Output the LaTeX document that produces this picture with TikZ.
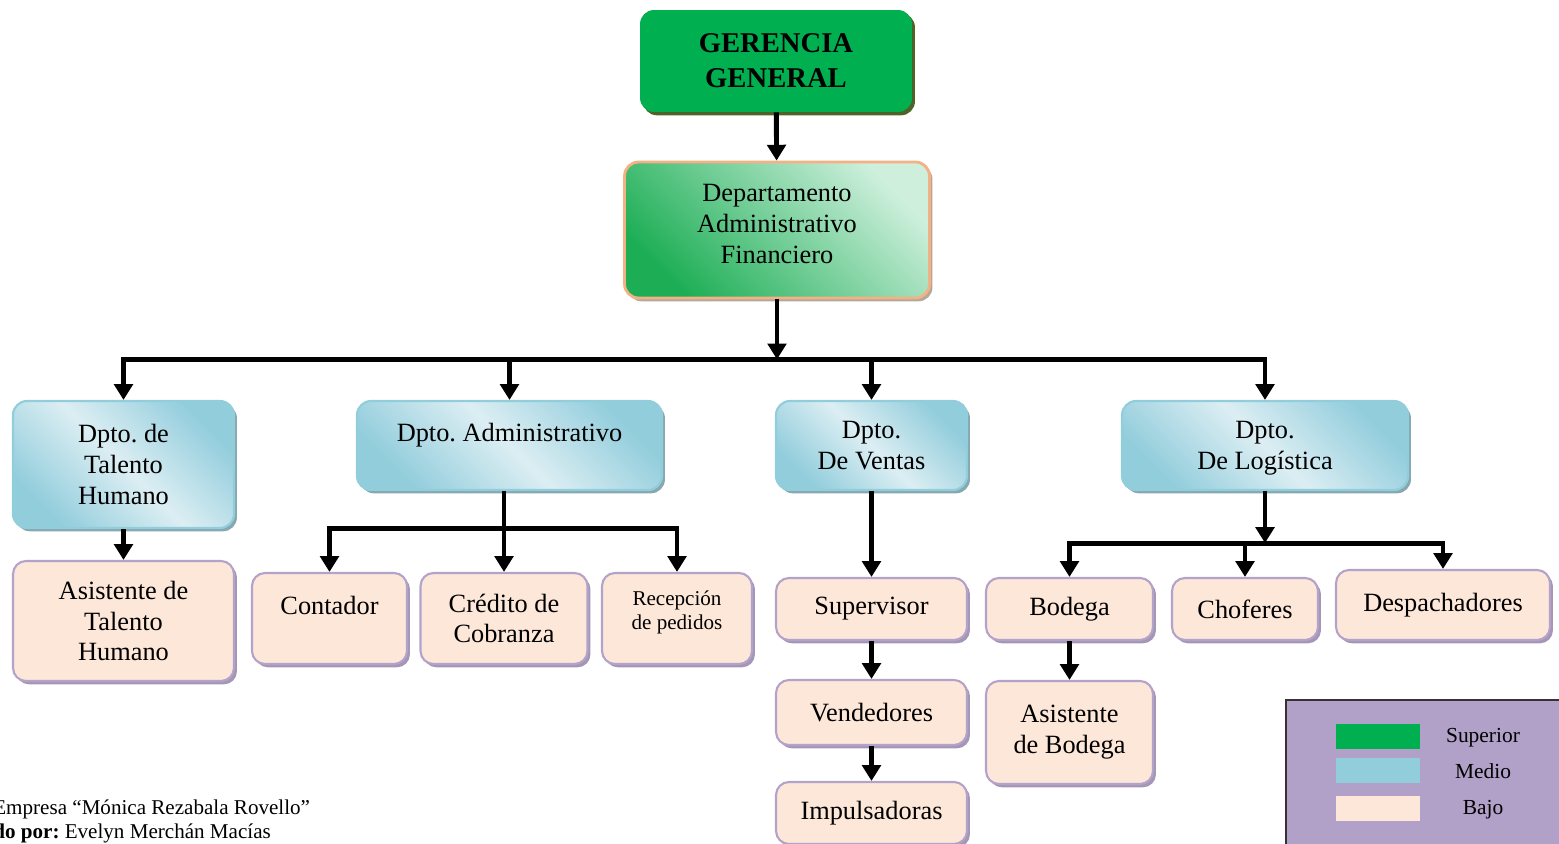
\documentclass[tikz,border=0pt]{standalone}
\usepackage{fontspec}
\setmainfont{Liberation Serif}
\usepackage{tikz}
\usetikzlibrary{calc, positioning, arrows.meta, shadows}
\frenchspacing

\definecolor{gerGreen}{HTML}{00B050}
\definecolor{gerShadow}{HTML}{4F6228}
\definecolor{dafDark}{HTML}{1DAE55}
\definecolor{dafLight}{HTML}{CDEFDC}
\definecolor{dafLine}{HTML}{F4B183}
\definecolor{dafShadow}{HTML}{B3A899}
\definecolor{midDark}{HTML}{92CDDC}
\definecolor{midLight}{HTML}{DCEEF3}
\definecolor{midShadow}{HTML}{86A8B1}
\definecolor{lowFill}{HTML}{FCE7D9}
\definecolor{lowLine}{HTML}{B3A2C9}
\definecolor{lowShadow}{HTML}{A497B5}
\definecolor{legendBg}{HTML}{B1A0C7}

\begin{document}
\begin{tikzpicture}[x=0.02cm, y=-0.02cm,
    every node/.style={font=\fontsize{15}{17.6}\selectfont, align=center, inner sep=2pt},
    topbox/.style={rounded corners=0.28cm, fill=gerGreen,
        drop shadow={shadow xshift=1.7pt, shadow yshift=-1.9pt, fill=gerShadow, opacity=1}},
    dafbox/.style={rounded corners=0.28cm, draw=dafLine, line width=1.6pt,
        bottom color=dafDark, top color=dafLight, shading angle=-45,
        drop shadow={shadow xshift=1.7pt, shadow yshift=-1.9pt, fill=dafShadow, opacity=1}},
    midbox/.style={rounded corners=0.28cm, draw=midDark, line width=1.2pt,
        top color=midDark, bottom color=midDark, middle color=midLight, shading angle=-45,
        drop shadow={shadow xshift=1.7pt, shadow yshift=-1.9pt, fill=midShadow, opacity=1}},
    lowbox/.style={rounded corners=0.26cm, draw=lowLine, line width=1.2pt, fill=lowFill,
        drop shadow={shadow xshift=1.7pt, shadow yshift=-1.9pt, fill=lowShadow, opacity=1}},
    arr/.style={line width=2.8pt, -{Triangle[width=10.5pt,length=9pt]}}
]
\useasboundingbox (0,0) rectangle (1559,844);
\clip (0,0) rectangle (1559,844);

% upper levels
\node[topbox, minimum width=5.44cm, minimum height=2.04cm,
      font=\bfseries\fontsize{16.3}{19.8}\selectfont] (ger) at (776,61) {GERENCIA\\GENERAL};
\node[dafbox, minimum width=6.1cm, minimum height=2.72cm, text depth=7pt] (daf) at (777,230)
      {Departamento\\Administrativo\\Financiero};

% departments
\node[midbox, minimum width=4.42cm, minimum height=2.54cm] (dth) at (123.5,464.5) {Dpto. de\\Talento\\Humano};
\node[midbox, minimum width=6.1cm, minimum height=1.78cm, text height=10pt, text depth=15pt] (dadm) at (509.5,445.5) {Dpto. Administrativo};
\node[midbox, minimum width=3.82cm, minimum height=1.78cm] (dven) at (871.5,445.5) {Dpto.\\De Ventas};
\node[midbox, minimum width=5.72cm, minimum height=1.78cm, text depth=0pt] (dlog) at (1265,445.5) {Dpto.\\De Logística};

% lower level
\node[lowbox, minimum width=4.42cm, minimum height=2.4cm] (ath) at (123.5,621) {Asistente de\\Talento\\Humano};
\node[lowbox, minimum width=3.1cm, minimum height=1.82cm, text height=10pt, text depth=15pt] (cont) at (329.5,618.5) {Contador};
\node[lowbox, minimum width=3.34cm, minimum height=1.82cm] (cred) at (504,618.5) {Crédito de\\Cobranza};
\node[lowbox, minimum width=3.0cm, minimum height=1.82cm, text depth=9.5pt,
      font=\fontsize{12}{14.2}\selectfont] (rec) at (677,618.5) {Recepción\\de pedidos};
\node[lowbox, minimum width=3.82cm, minimum height=1.24cm] (sup) at (871.5,609) {Supervisor};
\node[lowbox, minimum width=3.82cm, minimum height=1.3cm] (vend) at (871.5,712.5) {Vendedores};
\node[lowbox, minimum width=3.82cm, minimum height=1.24cm] (imp) at (871.5,813) {Impulsadoras};
\node[lowbox, minimum width=3.34cm, minimum height=1.24cm] (bod) at (1069.5,609) {Bodega};
\node[lowbox, minimum width=2.92cm, minimum height=1.24cm] (cho) at (1245,609) {Choferes};
\node[lowbox, minimum width=4.28cm, minimum height=1.4cm] (desp) at (1443,605) {Despachadores};
\node[lowbox, minimum width=3.34cm, minimum height=2.06cm] (abod) at (1069.5,732.5) {Asistente\\de Bodega};

% connectors
\draw[arr] (ger) -- (daf);
\coordinate (hubA) at ($(daf.south)+(0,60)$);
\draw[arr] (daf) -- (hubA);
\foreach \n in {dth,dadm,dven,dlog}
    \draw[arr] (hubA) -| (\n.north);
\draw[arr] (dth) -- (ath);

\coordinate (hubB) at ($(dadm.south -| cred)+(0,37)$);
\draw[arr] (dadm.south -| cred) -- (cred);
\draw[arr] (hubB) -| (cont.north);
\draw[arr] (hubB) -| (rec.north);

\draw[arr] (dven) -- (sup);
\draw[arr] (sup) -- (vend);
\draw[arr] (vend) -- (imp);

\coordinate (hubC) at ($(dlog.south)+(0,52)$);
\draw[arr] (dlog) -- (hubC);
\foreach \n in {bod,cho,desp}
    \draw[arr] (hubC) -| (\n.north);
\draw[arr] (bod) -- (abod);

% legend
\filldraw[fill=legendBg, draw=black!80, line width=1pt] (1286,700) rectangle (1580,870);
\fill[gerGreen] (1336,724) rectangle (1420,749);
\fill[midDark] (1336,758) rectangle (1420,783);
\fill[lowFill] (1336,796) rectangle (1420,821);
\node[font=\fontsize{12.2}{14}\selectfont] (lgsup) at (1483,738) {Superior};
\node[font=\fontsize{12.2}{14}\selectfont] (lgmed) at (1483,771) {Medio};
\node[font=\fontsize{12.2}{14}\selectfont] (lgbaj) at (1483,810) {Bajo};

% source lines
\node[anchor=base west, inner sep=0pt, font=\fontsize{12}{14}\selectfont] (src) at (-7,814)
    {Empresa “Mónica Rezabala Rovello”};
\node[anchor=base west, inner sep=0pt, font=\fontsize{12}{14}\selectfont] (elab) at (-7,838)
    {\textbf{do por:} Evelyn Merchán Macías};
\end{tikzpicture}
\end{document}
